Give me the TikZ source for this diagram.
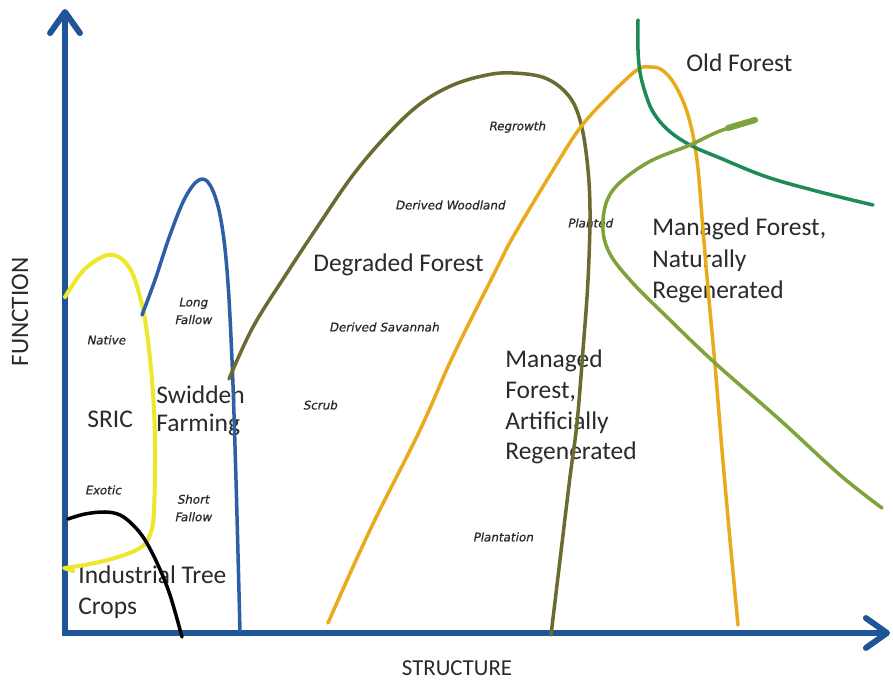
\documentclass[tikz,border=0pt]{standalone}
\usepackage{fontspec}
\setmainfont{Carlito}
\newfontface\lblfont[FakeBold=0.7,FakeSlant=0.2]{DejaVu Sans}
\usetikzlibrary{arrows.meta}
\definecolor{axisblue}{HTML}{1F5596}
\definecolor{swblue}{HTML}{2D5FA6}
\definecolor{sricyellow}{HTML}{EEE82C}
\definecolor{olive2}{HTML}{6B6A30}
\definecolor{orange2}{HTML}{E9AA1C}
\definecolor{dkgreen}{HTML}{1E8A58}
\definecolor{ltgreen}{HTML}{7DA33A}
\definecolor{txt}{HTML}{2A2A2A}
\tikzset{
  big/.style={font=\fontsize{14.5}{18}\selectfont, text=txt, inner sep=0pt, align=left},
  axlbl/.style={font=\fontsize{13}{15}\selectfont, text=txt, inner sep=0pt},
  small/.style={font=\lblfont\fontsize{6.8}{10}\selectfont, text=txt, inner sep=0pt, align=center},
  axisline/.style={line width=3.4pt, draw=axisblue, -{Straight Barb[length=12pt,width=17pt,round]}},
  curve/.style={line width=2pt, line cap=round, line join=round}
}
\begin{document}
\begin{tikzpicture}[x=0.02cm,y=-0.02cm]
\useasboundingbox[fill=white] (0,0) rectangle (893,685);
% labels (base anchor = baseline of the last line)
\node[big,anchor=base west] (old) at (686,72) {Old Forest};
\node[big,anchor=base west] (mfn) at (652,299) {Managed Forest,\\Naturally\\Regenerated};
\node[big,anchor=base west,font=\fontsize{14.5}{17.6}\selectfont] (mfa) at (505,460) {Managed\\Forest,\\Artificially\\Regenerated};
\node[big,anchor=base west] (deg) at (313,272) {Degraded Forest};
\node[big,anchor=base west,font=\fontsize{14.5}{16.5}\selectfont] (swid) at (156,432) {Swidden\\Farming};
\node[big,anchor=base west] (sric) at (87,428) {SRIC};
\node[big,anchor=base west] (itc) at (78,615) {Industrial Tree\\Crops};
\node[axlbl,font=\fontsize{14.3}{16}\selectfont,rotate=90] (fn) at (20,312) {FUNCTION};
\node[axlbl] (st) at (457,668) {STRUCTURE};
\node[small] (regr) at (517,127) {Regrowth};
\node[small] (dwood) at (450,205) {Derived Woodland};
\node[small] (plted) at (590,223) {Planted};
\node[small] (dsav) at (384,327) {Derived Savannah};
\node[small] (scrub) at (320,405) {Scrub};
\node[small] (plant) at (503,537) {Plantation};
\node[small] (native) at (106,340) {Native};
\node[small] (longf) at (193,311) {Long\\Fallow};
\node[small] (exotic) at (103,490) {Exotic};
\node[small] (shortf) at (193,508) {Short\\Fallow};
% axes
\coordinate (orig) at (65,636);
\coordinate (ytop) at (65,9);
\coordinate (xorig) at (62,633);
\coordinate (xend) at (890,633);
\draw[axisline] (orig) -- (ytop);
\draw[axisline] (xorig) -- (xend);
% SRIC (yellow)
\draw[curve,draw=sricyellow,line width=2.3pt] plot[smooth,tension=0.6] coordinates {(65,297) (82,272) (100,258) (113,255) (125,262) (135,280) (145,320) (152,380) (155,440) (154,510) (150,535) (140,548) (115,558) (85,565) (64,568)} -- (73,571);
% Industrial tree crops (black)
\draw[curve,draw=black] plot[smooth,tension=0.6] coordinates {(68,519) (85,514) (105,512) (120,515) (133,525) (145,540) (158,565) (170,595) (182,637)};
% Swidden (blue)
\draw[curve,draw=swblue] plot[smooth,tension=0.6] coordinates {(142,315) (155,280) (170,235) (185,198) (199,180) (210,185) (220,215) (227,270) (232,360) (236,480) (240,632)};
% Degraded forest (olive)
\draw[curve,draw=olive2] plot[smooth,tension=0.6] coordinates {(229,379) (253,327) (287,273) (320,223) (353,175) (387,135) (420,104) (453,85) (487,75) (513,73) (545,78) (568,95) (580,120) (587,160) (590,210) (588,280) (583,350) (577,423) (570,477) (560,560) (551,635)};
% Managed artificially (orange)
\draw[curve,draw=orange2] plot[smooth,tension=0.6] coordinates {(328,623) (370,530) (420,430) (453,356) (497,268) (513,237) (550,175) (580,128) (610,95) (637,70) (650,67) (662,70) (675,85) (688,115) (697,160) (703,230) (709,300) (715,365) (722,450) (730,540) (738,625)};
% Old forest (dark green)
\draw[curve,draw=dkgreen] plot[smooth,tension=0.6] coordinates {(638,20) (638,50) (640,72) (645,92) (653,112) (668,130) (690,145) (720,158) (767,177) (820,192) (873,205)};
% Managed naturally (light green)
\draw[curve,draw=ltgreen] plot[smooth,tension=0.6] coordinates {(755,120) (720,131) (690,145) (647,163) (613,190) (603,220) (608,250) (630,280) (670,320) (715,363) (780,420) (840,475) (882,508)};
\draw[curve,draw=ltgreen,line width=3.5pt] (728,128) -- (755,120);
\end{tikzpicture}
\end{document}
